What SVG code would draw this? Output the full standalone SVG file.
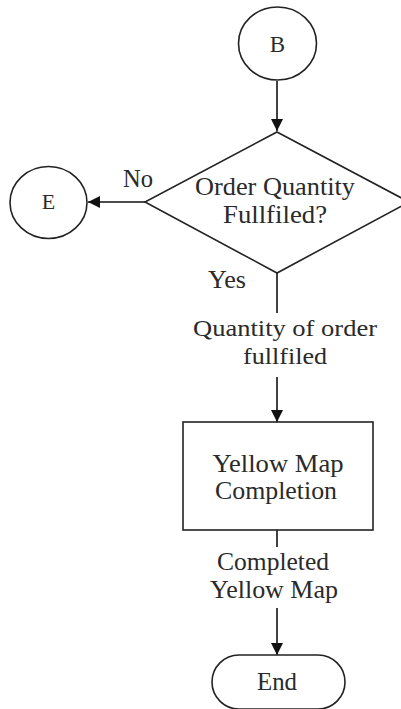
<svg xmlns="http://www.w3.org/2000/svg" width="401" height="709" viewBox="0 0 401 709">
<defs>
<style>
.s{fill:#fff;stroke:#222;stroke-width:1.6}
.c{fill:none;stroke:#111;stroke-width:1.6}
text{font-family:"Liberation Serif","Times New Roman",serif;font-size:26px;fill:#2a2a2a;text-anchor:middle}
.m{font-size:24px}
</style>
<marker id="a" viewBox="0 0 12 12" refX="12" refY="6" markerWidth="12" markerHeight="12" markerUnits="userSpaceOnUse" orient="auto">
<path d="M0,0 L12,6 L0,12 Z" fill="#111"/>
</marker>
</defs>
<rect width="401" height="709" fill="#fff"/>
<g id="connectors">
<line class="c" x1="277" y1="81" x2="277" y2="131" marker-end="url(#a)"/>
<line class="c" x1="145" y1="202" x2="88" y2="202" marker-end="url(#a)"/>
<line class="c" x1="277" y1="273" x2="277" y2="313"/>
<line class="c" x1="277" y1="377" x2="277" y2="422" marker-end="url(#a)"/>
<line class="c" x1="277" y1="530" x2="277" y2="547"/>
<line class="c" x1="277" y1="608" x2="277" y2="655" marker-end="url(#a)"/>
<text x="138" y="187" textLength="30" lengthAdjust="spacingAndGlyphs">No</text>
<text x="227" y="288" textLength="38" lengthAdjust="spacingAndGlyphs">Yes</text>
<text class="m" x="285" y="336" textLength="184" lengthAdjust="spacingAndGlyphs">Quantity of order</text>
<text class="m" x="285" y="364" textLength="84" lengthAdjust="spacingAndGlyphs">fullfiled</text>
<text x="273" y="570" textLength="112" lengthAdjust="spacingAndGlyphs">Completed</text>
<text x="274" y="598" textLength="128" lengthAdjust="spacingAndGlyphs">Yellow Map</text>
</g>
<g id="B">
<ellipse class="s" cx="277.5" cy="43.5" rx="39" ry="36.5"/>
<text x="277.5" y="52" style="font-size:23px">B</text>
</g>
<g id="decision">
<polygon class="s" points="277,132 409,202 277,273 145,202"/>
<text x="275" y="195" textLength="160" lengthAdjust="spacingAndGlyphs">Order Quantity</text>
<text x="275" y="223" textLength="104" lengthAdjust="spacingAndGlyphs">Fullfiled?</text>
</g>
<g id="E">
<ellipse class="s" cx="48.5" cy="202.5" rx="38.5" ry="36"/>
<text x="48.5" y="209" style="font-size:22px">E</text>
</g>
<g id="completion">
<rect class="s" x="183" y="422" width="190" height="108"/>
<text x="278" y="472" textLength="131" lengthAdjust="spacingAndGlyphs">Yellow Map</text>
<text x="276" y="499" textLength="122" lengthAdjust="spacingAndGlyphs">Completion</text>
</g>
<g id="end">
<rect class="s" x="212" y="655" width="133" height="54" rx="27" ry="27"/>
<text x="277" y="690" textLength="40" lengthAdjust="spacingAndGlyphs">End</text>
</g>
</svg>
